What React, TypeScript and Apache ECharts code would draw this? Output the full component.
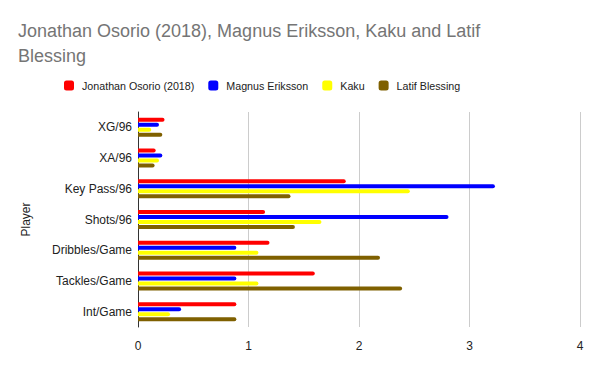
import React, { useEffect, useRef } from "react";
import * as echarts from "echarts";

const categories = ["XG/96", "XA/96", "Key Pass/96", "Shots/96", "Dribbles/Game", "Tackles/Game", "Int/Game"];
const osorio = [0.24, 0.16, 1.88, 1.15, 1.19, 1.6, 0.89];
const eriksson = [0.19, 0.22, 3.23, 2.81, 0.89, 0.89, 0.39];
const kaku = [0.12, 0.19, 2.46, 1.66, 1.09, 1.09, 0.29];
const blessing = [0.22, 0.15, 1.38, 1.42, 2.19, 2.39, 0.89];
const seriesNames = ["Jonathan Osorio (2018)", "Magnus Eriksson", "Kaku", "Latif Blessing"];
const colors = ["#ff0000", "#0000ff", "#ffff00", "#7f6000"];
const xTicks = { min: 0, max: 4, interval: 1 };

export default function App() {
  const ref = useRef<HTMLDivElement>(null);
  useEffect(() => {
    const chart = echarts.init(ref.current!, null, { renderer: "svg" });
    const data = [osorio, eriksson, kaku, blessing];
    chart.setOption({
      animation: false,
      title: {
        text: "Jonathan Osorio (2018), Magnus Eriksson, Kaku and Latif Blessing",
        left: 13,
        top: 13,
        textStyle: {
          fontFamily: "Liberation Sans, Arial",
          fontSize: 18,
          fontWeight: "normal",
          color: "#757575",
          width: 470,
          overflow: "break",
          lineHeight: 25,
        },
      },
      legend: {
        left: 64,
        top: 80,
        padding: 0,
        itemWidth: 10,
        itemHeight: 10,
        itemGap: 14,
        icon: "roundRect",
        textStyle: { fontFamily: "Liberation Sans, Arial", fontSize: 10.7, color: "#222", padding: [0, 0, 0, 3] },
        data: seriesNames,
      },
      grid: { left: 138, right: 20, top: 112, bottom: 44, containLabel: false },
      xAxis: {
        type: "value",
        min: xTicks.min,
        max: xTicks.max,
        interval: xTicks.interval,
        axisLine: { show: false },
        axisTick: { show: false },
        splitLine: { show: true, lineStyle: { color: "#cccccc", width: 1 } },
        axisLabel: { fontFamily: "Liberation Sans, Arial", fontSize: 12, color: "#222", margin: 13 },
      },
      yAxis: {
        type: "category",
        inverse: true,
        data: categories,
        name: "Player",
        nameLocation: "middle",
        nameGap: 106,
        nameTextStyle: { fontFamily: "Liberation Sans, Arial", fontSize: 12, color: "#222" },
        axisLine: { show: true, lineStyle: { color: "#333", width: 1 } },
        axisTick: { show: false },
        axisLabel: { fontFamily: "Liberation Sans, Arial", fontSize: 12, color: "#222", margin: 6 },
      },
      series: seriesNames.map((n, i) => ({
        name: n,
        type: "bar",
        data: data[i],
        barWidth: 4,
        barGap: "25%",
        itemStyle: { color: colors[i], borderRadius: [0, 2, 2, 0] },
      })),
    });
    return () => chart.dispose();
  }, []);
  return <div ref={ref} style={{ width: 600, height: 371, position: "absolute", left: 0, top: 0, background: "#fff" }} />;
}
